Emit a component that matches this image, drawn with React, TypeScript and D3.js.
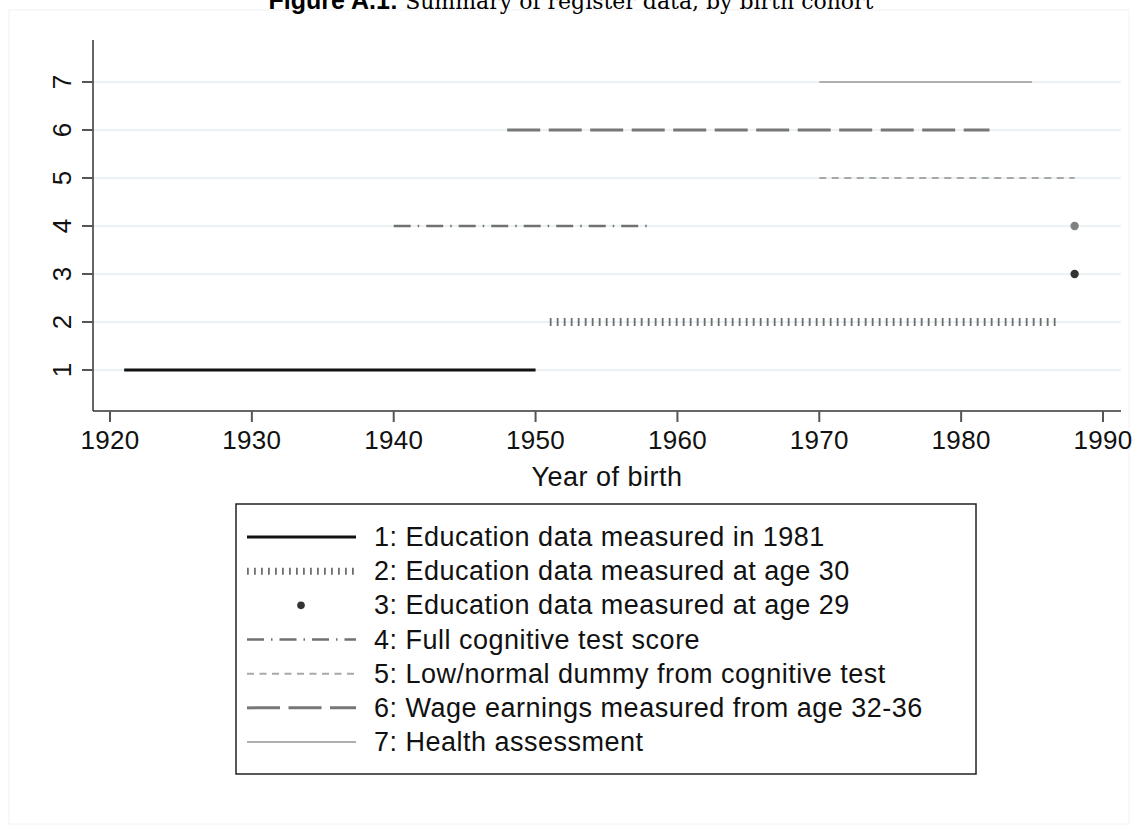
import React, { useEffect, useRef } from 'react';
import * as d3 from 'd3';

// series 1..7: start and end year of the register coverage
const seriesLevels = [1, 2, 3, 4, 5, 6, 7];
const seriesStart = [1921, 1951, 1988, 1940, 1970, 1948, 1970];
const seriesEnd = [1950, 1987, 1988, 1958, 1988, 1982, 1985];
const seriesLabels = [
  '1: Education data measured in 1981',
  '2: Education data measured at age 30',
  '3: Education data measured at age 29',
  '4: Full cognitive test score',
  '5: Low/normal dummy from cognitive test',
  '6: Wage earnings measured from age 32-36',
  '7: Health assessment',
];
// single-year markers
const pointYears = [1988, 1988];
const pointLevels = [3, 4];

const xTicks = [1920, 1930, 1940, 1950, 1960, 1970, 1980, 1990];
const yTicks = [1, 2, 3, 4, 5, 6, 7];

const W = 1138;
const H = 832;
const FONT = '"Liberation Sans", Arial, sans-serif';

// line look per series (index matches the arrays above)
const styles = [
  { color: '#111111', width: 3, dash: null, point: false },
  { color: '#6e6e6e', width: 8, dash: '1.8 5.2', point: false },
  { color: '#333333', width: 0, dash: null, point: true },
  { color: '#717171', width: 2.5, dash: '17 7 1.5 7', point: false },
  { color: '#a8a8a8', width: 2, dash: '7 5.5', point: false },
  { color: '#777777', width: 3, dash: '33 8.5', point: false },
  { color: '#b0b0b0', width: 2, dash: null, point: false },
];
const pointColors = ['#333333', '#808080'];

function App() {
  const ref = useRef<SVGSVGElement>(null);

  useEffect(() => {
    const svg = d3.select(ref.current);
    svg.selectAll('*').remove();

    const x = d3.scaleLinear().domain([1920, 1990]).range([110, 1103]);
    const y = d3.scaleLinear().domain([1, 7]).range([370, 82]);
    const left = 93, right = 1121, top = 40, bottom = 411;

    // faint outer frame
    svg.append('rect')
      .attr('x', 9).attr('y', 10).attr('width', 1120).attr('height', 814)
      .attr('fill', 'none').attr('stroke', '#f2f2f2')

    // title (partly cut at top)
    const title = svg.append('text')
      .attr('x', 571).attr('y', 9)
      .attr('text-anchor', 'middle')
    title.append('tspan')
      .attr('font-family', FONT).attr('font-weight', 'bold').attr('font-size', 25)
      .text('Figure A.1: ')
    title.append('tspan')
      .attr('font-family', '"DejaVu Serif", "Liberation Serif", serif')
      .attr('font-size', 22)
      .text('Summary of register data, by birth cohort')

    // grid lines
    svg.selectAll('.grid')
      .data(yTicks)
      .enter()
      .append('line')
      .attr('x1', left).attr('x2', right)
      .attr('y1', d => y(d)).attr('y2', d => y(d))
      .attr('stroke', '#e4eef2').attr('stroke-width', 1.5)

    // series lines
    const lineIdx = seriesLevels.map((_, i) => i).filter(i => !styles[i].point);
    svg.selectAll('.series')
      .data(lineIdx)
      .enter()
      .append('line')
      .attr('x1', i => x(seriesStart[i]))
      .attr('x2', i => x(seriesEnd[i]))
      .attr('y1', i => y(seriesLevels[i]))
      .attr('y2', i => y(seriesLevels[i]))
      .attr('stroke', i => styles[i].color)
      .attr('stroke-width', i => styles[i].width)
      .attr('stroke-dasharray', i => styles[i].dash)

    // points
    svg.selectAll('.pt')
      .data(pointYears)
      .enter()
      .append('circle')
      .attr('cx', d => x(d))
      .attr('cy', (d, i) => y(pointLevels[i]))
      .attr('r', 4.2)
      .attr('fill', (d, i) => pointColors[i])

    // axes
    svg.append('line')
      .attr('x1', left).attr('x2', left).attr('y1', top).attr('y2', bottom)
      .attr('stroke', '#333').attr('stroke-width', 1.5)
    svg.append('line')
      .attr('x1', left).attr('x2', right).attr('y1', bottom).attr('y2', bottom)
      .attr('stroke', '#333').attr('stroke-width', 1.5)

    svg.selectAll('.yt')
      .data(yTicks)
      .enter()
      .append('line')
      .attr('x1', left - 11).attr('x2', left)
      .attr('y1', d => y(d)).attr('y2', d => y(d))
      .attr('stroke', '#555').attr('stroke-width', 2)

    svg.selectAll('.yl')
      .data(yTicks)
      .enter()
      .append('text')
      .attr('transform', d => `translate(71,${y(d)}) rotate(-90)`)
      .attr('text-anchor', 'middle')
      .attr('font-family', FONT).attr('font-size', 26)
      .attr('fill', '#111')
      .text(d => d)

    svg.selectAll('.xt')
      .data(xTicks)
      .enter()
      .append('line')
      .attr('x1', d => x(d)).attr('x2', d => x(d))
      .attr('y1', bottom).attr('y2', bottom + 11)
      .attr('stroke', '#555').attr('stroke-width', 2)

    svg.selectAll('.xl')
      .data(xTicks)
      .enter()
      .append('text')
      .attr('x', d => x(d)).attr('y', 449)
      .attr('text-anchor', 'middle')
      .attr('font-family', FONT).attr('font-size', 26)
      .attr('letter-spacing', 0.3)
      .attr('fill', '#111')
      .text(d => d)

    svg.append('text')
      .attr('x', (left + right) / 2).attr('y', 486)
      .attr('text-anchor', 'middle')
      .attr('font-family', FONT).attr('font-size', 27)
      .attr('letter-spacing', 0.5)
      .attr('fill', '#111')
      .text('Year of birth')

    // legend
    svg.append('rect')
      .attr('x', 236).attr('y', 504).attr('width', 740).attr('height', 270)
      .attr('fill', 'white').attr('stroke', '#222').attr('stroke-width', 1.5)

    const rowY = d3.scaleLinear().domain([0, 6]).range([537, 742]);
    const rows = svg.selectAll('.leg')
      .data(seriesLabels)
      .enter()
      .append('g')
      .attr('transform', (d, i) => `translate(0,${rowY(i)})`)

    rows.each(function (d, i) {
      const g = d3.select(this);
      const s = styles[i];
      if (s.point) {
        g.append('circle').attr('cx', 301).attr('cy', 0).attr('r', 3.8).attr('fill', s.color)
      } else {
        g.append('line')
          .attr('x1', 247).attr('x2', 356).attr('y1', 0).attr('y2', 0)
          .attr('stroke', s.color)
          .attr('stroke-width', i === 1 ? 7 : s.width)
          .attr('stroke-dasharray', s.dash)
      }
      g.append('text')
        .attr('x', 374).attr('y', 9)
        .attr('font-family', FONT).attr('font-size', 27)
        .attr('letter-spacing', 0.5)
        .attr('fill', '#111')
        .text(d)
    })
  }, []);

  return (
    <div style={{ position: 'absolute', left: 0, top: 0 }}>
      <svg ref={ref} width={W} height={H} style={{ display: 'block', background: 'white' }}></svg>
    </div>
  );
}

export default App;
